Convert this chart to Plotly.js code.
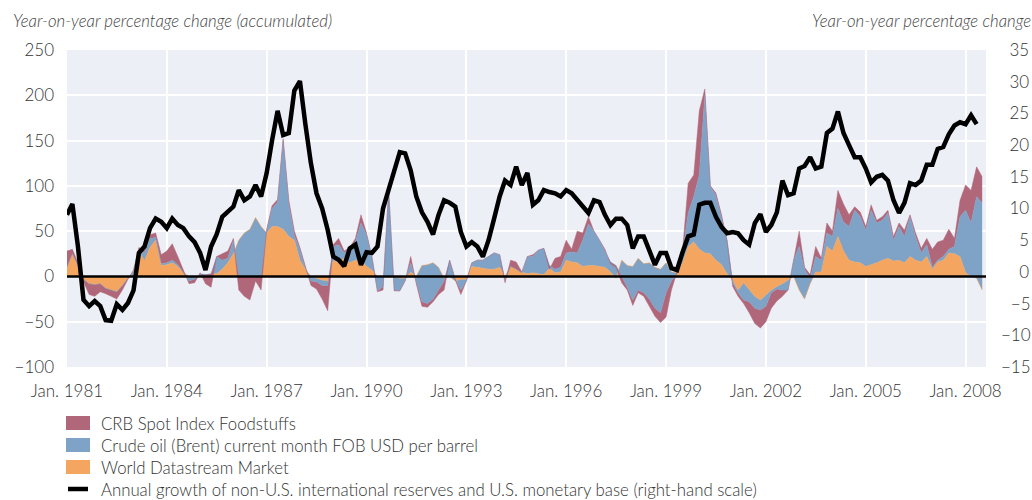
<!DOCTYPE html>
<html>
<head>
<meta charset="utf-8">
<script src="https://cdn.plot.ly/plotly-3.0.1.min.js"></script>
<style>html,body{margin:0;padding:0;background:#fff;}#chart{width:1032px;height:500px;}</style>
</head>
<body>
<div id="chart"></div>
<script>
// bi-monthly observations, Jan 1981 .. Jul 2008
const startYear = 1981, obsMonths = [1, 3, 5, 7, 9, 11], nObs = 166;
const dates = [];
for (let y = startYear; dates.length < nObs; y++) {
  for (const m of obsMonths) { if (dates.length < nObs) dates.push(y + '-' + String(m).padStart(2, '0') + '-01'); }
}

// accumulated levels (left scale): market, market+oil, market+oil+food
const marketLevel = [
  10,25,12,-3,-8,-9,  -8,-13,-15,-17,-10,-2,  2,28,17,32,40,12,  13,15,11,4,0,0,
  0,0,3,3,8,15,  25,40,48,52,65,55,  48,55,55,52,44,40,  18,8,0,-2,-4,-5,
  18,15,20,15,18,18,  11,7,0,0,0,0,  -2,-2,5,0,12,13,  15,10,-2,0,-5,-3,
  -3,11,10,9,8,8,  10,0,11,8,5,3,  4,3,2,9,4,5,  18,16,15,11,12,12,
  11,10,5,-2,18,12,  11,20,14,15,10,8,  15,5,4,15,33,38,  30,26,25,18,13,3,
  -4,-15,-7,-15,-22,-26,  -20,-15,-11,-8,-4,0,  -15,-25,-8,5,5,33,  28,44,28,18,16,15,
  11,13,15,18,20,17,  18,15,22,18,16,22,  8,16,18,26,25,22,  4,0,-2,-15
];
const oilLevel = [
  10,25,12,-3,-8,-9,  -8,-13,-15,-17,-10,-2,  6,30,26,42,43,14,  15,18,13,4,-5,-3,
  3,2,3,22,18,20,  40,0,0,0,0,0,  50,75,82,150,80,45,  30,9,-5,-6,-10,-10,
  33,35,26,31,38,59,  46,22,-16,-11,95,-15,  -16,-4,15,-5,-28,-30,  -25,-15,-5,18,-3,-15,
  -5,15,18,18,22,26,  24,-4,11,8,4,22,  22,29,31,12,8,10,  26,27,26,40,58,50,
  40,28,16,12,0,-12,  -26,-15,-18,-25,-35,-40,  -18,-5,3,26,70,88,  112,200,99,90,65,40,
  -7,-18,-26,-28,-35,-37,  -33,-18,-14,-15,-15,18,  33,8,-2,22,18,48,  44,75,60,55,73,66,
  51,73,59,62,70,40,  55,44,66,44,26,35,  10,18,22,30,33,66,  73,59,88,81
];
const foodLevel = [
  28,30,15,-6,-20,-22,  -17,-19,-22,-25,-15,-3,  7,32,28,46,48,24,  28,36,22,8,-8,-7,
  4,-8,-12,22,25,28,  42,-15,-22,-26,-5,-15,  52,78,85,152,84,50,  32,10,-10,-14,-25,-38,
  35,42,28,32,42,68,  48,22,-17,-15,95,-16,  -16,-5,22,-8,-33,-34,  -28,-20,-15,18,-4,-20,
  -5,15,18,18,22,26,  24,-7,18,16,5,22,  24,29,31,8,20,22,  40,30,50,48,66,50,
  40,30,14,10,-7,-15,  -32,-18,-22,-33,-44,-51,  -45,-15,5,28,103,112,  183,207,100,92,68,38,
  -11,-22,-30,-40,-52,-57,  -50,-35,-27,-22,-15,18,  50,10,2,33,20,59,  50,95,80,68,77,71,
  55,79,62,66,73,44,  59,51,68,48,31,42,  30,38,40,52,42,84,  101,95,121,110
];
// annual growth of reserves + monetary base (right scale)
const reservesGrowth = [
  9.0,10.7,4.0,-4.4,-5.4,-4.6,  -5.4,-7.6,-7.7,-5.1,-6.0,-4.9,  -2.9,3.0,4.0,6.9,8.4,7.9,
  6.9,8.4,7.4,6.9,5.6,4.7,  3.0,0.3,4.0,5.9,8.7,9.4,  10.3,12.9,11.3,11.9,13.7,11.9,
  15.6,20.7,25.4,21.6,21.9,28.6,  30.1,23.3,17.1,12.4,10.0,6.6,  2.4,1.9,0.9,3.7,4.3,1.1,
  3.1,3.0,4.0,10.0,12.9,16.0,  18.9,18.7,16.0,11.9,9.4,7.9,  5.9,9.0,11.3,10.9,10.3,6.3,
  4.0,4.7,4.0,2.4,5.0,8.4,  11.9,14.4,13.7,16.6,13.7,15.6,  10.6,11.3,12.9,12.6,12.4,11.9,
  12.9,12.4,11.3,10.3,9.3,11.3,  11.0,9.0,7.4,8.4,8.4,7.4,  3.7,5.6,5.6,3.4,1.1,3.0,
  3.0,0.6,0.3,3.1,5.6,5.9,  10.6,10.9,10.9,8.7,7.1,6.1,  6.3,6.1,5.0,4.3,7.7,9.1,
  6.3,7.4,9.4,14.4,12.1,12.4,  16.3,16.7,18.1,16.3,16.6,21.9,  22.6,25.3,21.9,20.0,18.1,18.1,
  16.3,14.1,15.0,15.3,14.4,11.3,  9.3,10.9,14.0,13.7,14.4,16.9,  16.9,19.4,19.7,21.7,23.1,23.6,
  23.3,24.7,23.3,null
];

const xTickYears = [1981,1984,1987,1990,1993,1996,1999,2002,2005,2008];
const leftTicks = [-100,-50,0,50,100,150,200,250];
const rightTicks = [-15,-10,-5,0,5,10,15,20,25,30,35];
const seriesNames = [
  'CRB Spot Index Foodstuffs',
  'Crude oil (Brent) current month FOB USD per barrel',
  'World Datastream Market',
  'Annual growth of non-U.S. international reserves and U.S. monetary base (right-hand scale)'
];
const colFood = '#b0677a', colOil = '#7ea3c7', colMkt = '#f4a660', colRes = '#000000';

const traces = [
  {x: dates, y: marketLevel, name: seriesNames[2], type: 'scatter', mode: 'lines', fill: 'tozeroy',
   line: {color: colMkt, width: 0.5}, fillcolor: colMkt, hoverinfo: 'skip'},
  {x: dates, y: oilLevel, name: seriesNames[1], type: 'scatter', mode: 'lines', fill: 'tonexty',
   line: {color: colOil, width: 0.5}, fillcolor: colOil, hoverinfo: 'skip'},
  {x: dates, y: foodLevel, name: seriesNames[0], type: 'scatter', mode: 'lines', fill: 'tonexty',
   line: {color: colFood, width: 0.5}, fillcolor: colFood, hoverinfo: 'skip'},
  {x: dates, y: reservesGrowth, name: seriesNames[3], type: 'scatter', mode: 'lines', yaxis: 'y2',
   line: {color: colRes, width: 4.5}, connectgaps: false}
];

const L = 67, R = 986, T = 50, B = 367;
const px = v => (v - L) / (R - L);
const py = v => (B - v) / (B - T);
const FONT = 'Lato, "Open Sans", sans-serif';
const TXT = '#333333';
const WEIGHT = 300;

function pad(v) {
  const s = (v < 0 ? '\u2212' : '') + Math.abs(v);
  let p = '';
  if (v >= 0) p += '\u2002';
  if (Math.abs(v) < 10) p += '\u2007';
  return p + s;
}

const shapes = [
  {type: 'line', xref: 'paper', x0: 0, x1: 1, yref: 'y', y0: 0, y1: 0,
   line: {color: '#000', width: 2.5}, layer: 'above'}
];
const annotations = [
  {text: 'Year-on-year percentage change (accumulated)', xref: 'paper', yref: 'paper',
   x: px(11), y: py(21), xanchor: 'left', yanchor: 'middle', showarrow: false,
   font: {family: FONT, size: 16.8, color: '#444', style: 'italic', weight: WEIGHT}},
  {text: 'Year-on-year percentage change', xref: 'paper', yref: 'paper',
   x: px(810), y: py(21), xanchor: 'left', yanchor: 'middle', showarrow: false,
   font: {family: FONT, size: 16.8, color: '#444', style: 'italic', weight: WEIGHT}}
];
const legendColors = [colFood, colOil, colMkt];
const legendRowsY = [423, 445, 467, 489];
for (let i = 0; i < 4; i++) {
  const cy = legendRowsY[i];
  if (i < 3) {
    shapes.push({type: 'rect', xref: 'paper', yref: 'paper', x0: px(66), x1: px(90),
      y0: py(cy - 7), y1: py(cy + 7), fillcolor: legendColors[i], line: {width: 0}});
  } else {
    shapes.push({type: 'line', xref: 'paper', yref: 'paper', x0: px(68), x1: px(88),
      y0: py(cy), y1: py(cy), line: {color: '#000', width: 4.5}});
  }
  annotations.push({text: seriesNames[i], xref: 'paper', yref: 'paper', x: px(99), y: py(cy),
    xanchor: 'left', yanchor: 'middle', showarrow: false,
    font: {family: FONT, size: 16.8, color: TXT, weight: WEIGHT}});
}

const tf = {family: FONT, size: 17, color: TXT, weight: WEIGHT};
const layout = {
  width: 1032, height: 500,
  margin: {l: L, r: 1032 - R, t: T, b: 500 - B},
  paper_bgcolor: '#ffffff', plot_bgcolor: '#eceff6',
  showlegend: false,
  font: {family: FONT, size: 17, color: TXT, weight: WEIGHT},
  xaxis: {type: 'date', range: ['1981-01-01', '2008-08-12'],
    tickvals: xTickYears.map(y => y + '-01-01'), ticktext: xTickYears.map(y => 'Jan. ' + y),
    showgrid: true, gridcolor: '#ffffff', gridwidth: 2, zeroline: false, showline: false,
    ticks: '', ticklabelstandoff: 12, tickfont: tf},
  yaxis: {range: [-100, 250], tickvals: leftTicks, showgrid: true, gridcolor: '#ffffff', gridwidth: 2,
    zeroline: false, showline: false, ticks: '', ticklabelstandoff: 12, tickfont: tf},
  yaxis2: {range: [-15, 35], overlaying: 'y', side: 'right', tickvals: rightTicks,
    ticktext: rightTicks.map(pad), showgrid: false, zeroline: false, showline: false, ticks: '',
    ticklabelstandoff: 14, tickfont: tf},
  shapes: shapes,
  annotations: annotations
};

Plotly.newPlot('chart', traces, layout, {staticPlot: true, displayModeBar: false});
</script>
</body>
</html>
